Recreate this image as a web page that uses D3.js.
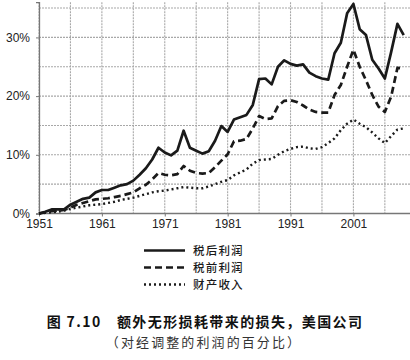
<!DOCTYPE html>
<html><head><meta charset="utf-8">
<script src="https://cdn.jsdelivr.net/npm/d3@7"></script>
<style>
html,body{margin:0;padding:0;background:#fff;}
svg{display:block;}
</style></head>
<body>
<svg id="chart" width="410" height="360"></svg>
<script>
const years = d3.range(1951, 2010);
const afterTax = [0,0.3,0.7,0.7,0.7,1.5,2.0,2.5,2.7,3.6,4.0,4.0,4.4,4.8,5.0,5.6,6.6,7.7,9.2,11.2,10.4,9.9,10.7,14.1,11.2,10.7,10.2,10.6,12.4,14.9,13.9,16.0,16.4,16.8,18.5,22.9,23.0,22.0,25.0,26.1,25.5,25.2,25.4,24.0,23.4,23.0,22.8,27.3,29.1,34.1,35.7,31.4,30.4,26.2,24.7,23.0,27.5,32.3,30.4];
const preTax = [0,0.2,0.4,0.5,0.6,1.0,1.5,1.8,2.1,2.4,2.5,2.6,2.8,3.0,3.3,3.6,4.3,4.9,5.8,6.9,6.6,6.5,6.7,8.1,7.3,6.9,6.8,6.9,7.9,9.0,10.1,12.3,12.4,12.7,14.5,16.6,16.1,16.2,18.3,19.2,19.3,19.0,18.4,17.7,17.3,17.2,17.2,20.2,21.9,25.0,27.9,25.0,22.7,20.2,18.2,17.3,19.9,24.8,24.7];
const propertyIncome = [0,0.1,0.2,0.3,0.5,0.8,1.0,1.2,1.4,1.5,1.6,1.8,2.0,2.3,2.5,2.7,3.0,3.3,3.6,3.8,3.9,4.1,4.3,4.5,4.4,4.3,4.3,4.6,5.0,5.4,5.7,6.5,7.0,7.5,8.5,9.1,9.2,9.3,10.0,10.6,11.0,11.3,11.4,11.1,11.0,11.3,12.0,12.8,14.2,15.3,16.0,15.3,14.7,13.8,12.8,12.0,13.2,14.3,14.5];
const seriesNames = ["税后利润","税前利润","财产收入"];
const xTickLabels = [1951,1961,1971,1981,1991,2001];
const xGridYears = [1951,1956,1961,1966,1971,1976,1981,1986,1991,1996,2001,2006];
const yTickLabels = [0,10,20,30];
const yGridValues = [0,5,10,15,20,25,30,35];
const titleText = "图 7.10　额外无形损耗带来的损失，美国公司";
const subtitleText = "（对经调整的利润的百分比）";

const svg = d3.select("#chart");
const x = d3.scaleLinear().domain([1951, 2010]).range([39, 410]);
const y = d3.scaleLinear().domain([0, 36]).range([213.5, 2.2]);

// grid
const grid = svg.append("g");
grid.selectAll("line.h").data(yGridValues).join("line")
  .attr("x1", x(1951)).attr("x2", 410)
  .attr("y1", d => y(d)).attr("y2", d => y(d))
  .attr("stroke", "#a8a8a8").attr("stroke-width", 1.1).attr("stroke-dasharray", "2,1");
grid.selectAll("line.v").data(xGridYears).join("line")
  .attr("x1", d => x(d)).attr("x2", d => x(d))
  .attr("y1", y(36)).attr("y2", y(0))
  .attr("stroke", "#a8a8a8").attr("stroke-width", 1.1).attr("stroke-dasharray", "2,1");

// axes
const yAxis = d3.axisLeft(y).tickValues(yTickLabels).tickFormat(d => d + "%").tickSize(3).tickPadding(6);
const gy = svg.append("g").attr("transform", `translate(${x(1951)},0)`).call(yAxis);
gy.select(".domain").attr("stroke", "#777").attr("stroke-width", 1.3);
gy.selectAll(".tick line").attr("stroke", "#777");
gy.selectAll("text").attr("font-family", "Liberation Sans, Arial, sans-serif").attr("font-size", 12).attr("fill", "#222");

const xAxis = d3.axisBottom(x).tickValues(xTickLabels).tickFormat(d3.format("d")).tickSize(3).tickPadding(3);
const gx = svg.append("g").attr("transform", `translate(0,${y(0)})`).call(xAxis);
gx.select(".domain").attr("stroke", "#777").attr("stroke-width", 1.3).attr("d", `M${x(1951)},0H410`);
gx.selectAll(".tick line").attr("stroke", "#777");
gx.selectAll("text").attr("font-family", "Liberation Sans, Arial, sans-serif").attr("font-size", 12).attr("fill", "#222");

// lines
const styles = [
  {data: afterTax, dash: null, w: 2.7},
  {data: preTax, dash: "7,4", w: 2.7},
  {data: propertyIncome, dash: "2,3", w: 2.4}
];
const line = d3.line().x((d, i) => x(years[i])).y(d => y(d));
styles.forEach(s => {
  svg.append("path").datum(s.data)
    .attr("d", line).attr("fill", "none").attr("stroke", "#1a1a1a")
    .attr("stroke-width", s.w).attr("stroke-linejoin", "round")
    .attr("stroke-dasharray", s.dash);
});

// legend
const lg = svg.append("g");
seriesNames.forEach((name, i) => {
  const yy = 250.5 + i * 17;
  lg.append("line").attr("x1", 144).attr("x2", 185).attr("y1", yy).attr("y2", yy)
    .attr("stroke", "#1a1a1a").attr("stroke-width", styles[i].w).attr("stroke-dasharray", styles[i].dash);
  lg.append("text").attr("x", 193).attr("y", yy).attr("dy", "0.36em")
    .attr("font-family", "Noto Sans CJK SC").attr("font-weight", 500).attr("font-size", 11.5)
    .attr("letter-spacing", 1.2).attr("fill", "#1a1a1a").text(name);
});

// title
svg.append("text").attr("x", 205).attr("y", 322).attr("dy", "0.36em").attr("text-anchor", "middle")
  .attr("font-family", "Noto Sans CJK SC").attr("font-weight", 700).attr("font-size", 14)
  .attr("letter-spacing", 1.4).attr("fill", "#111").text(titleText);
svg.append("text").attr("x", 204).attr("y", 342).attr("dy", "0.36em").attr("text-anchor", "middle")
  .attr("font-family", "Noto Sans CJK SC").attr("font-weight", 400).attr("font-size", 13)
  .attr("letter-spacing", 2.1).attr("fill", "#333").text(subtitleText);
</script>
</body></html>
